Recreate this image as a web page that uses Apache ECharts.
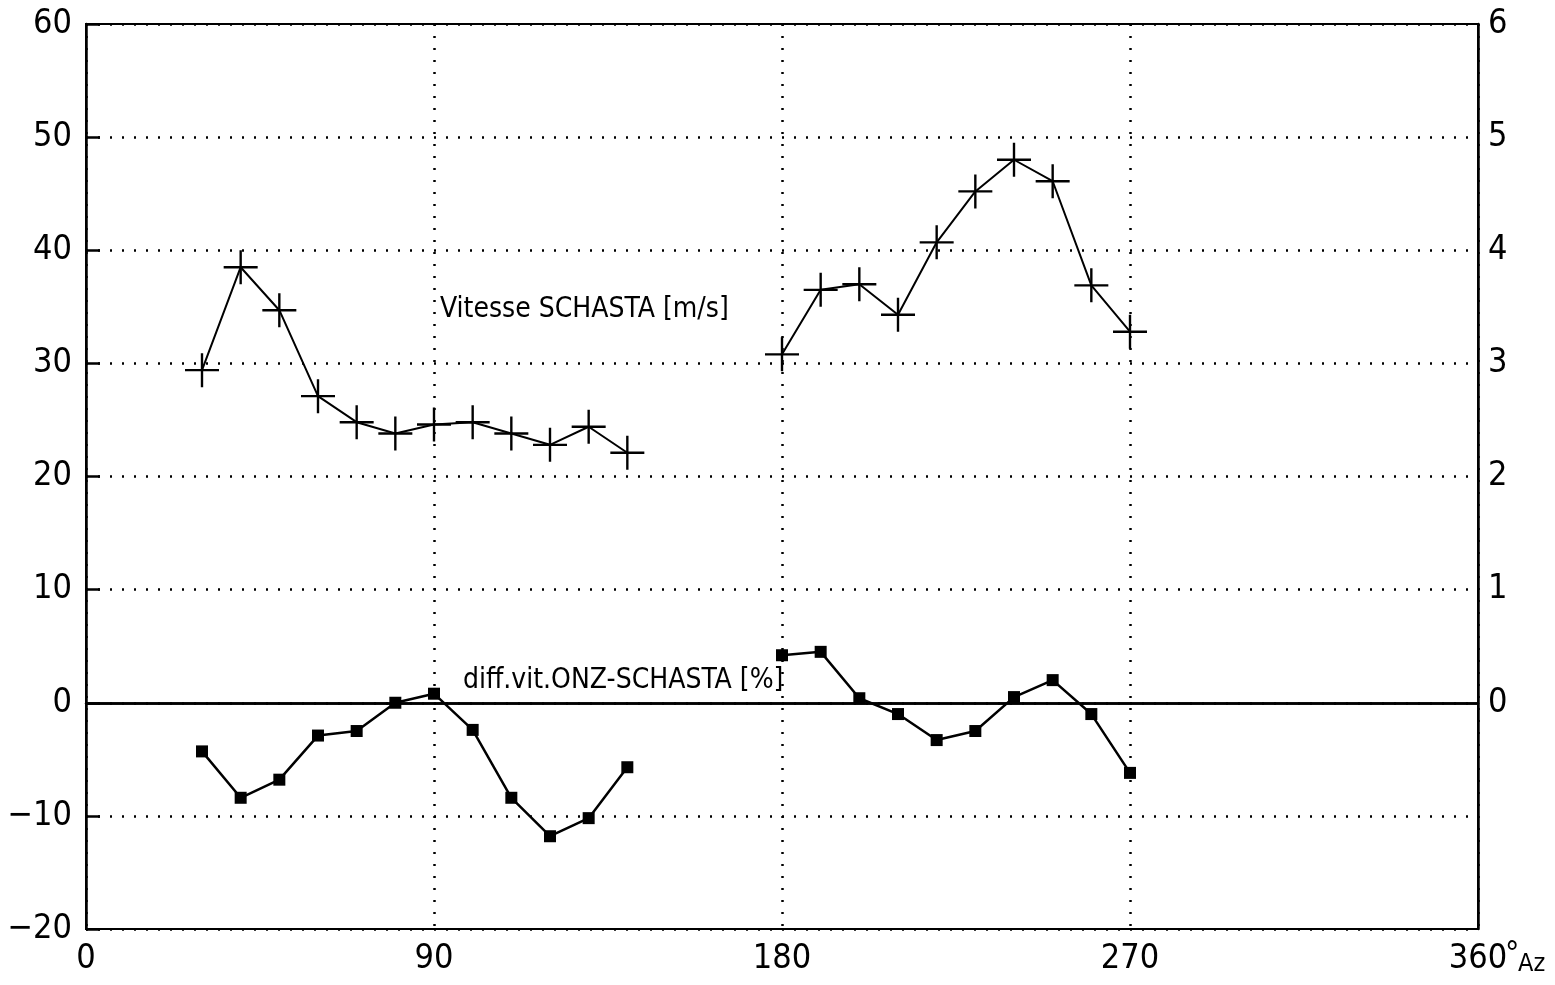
<!DOCTYPE html>
<html>
<head>
<meta charset="utf-8">
<script src="https://cdn.jsdelivr.net/npm/echarts@6/dist/echarts.min.js"></script>
<style>
html,body{margin:0;padding:0;background:#fff;}
#chart{width:1555px;height:985px;}
</style>
</head>
<body>
<div id="chart"></div>
<script>
// ---- data ----
var azimuths = [30,40,50,60,70,80,90,100,110,120,130,140,150,160,170,180,190,200,210,220,230,240,250,260,270];
var vitesse  = [29.4,38.5,34.7,27.1,24.8,23.8,24.6,24.8,23.8,22.8,24.4,22.1,null,null,null,30.8,36.5,37.0,34.3,40.7,45.2,48.0,46.1,36.9,32.8];
var diffVit  = [-4.3,-8.4,-6.8,-2.9,-2.5,0.0,0.8,-2.4,-8.4,-11.8,-10.2,-5.7,null,null,null,4.2,4.5,0.4,-1.0,-3.3,-2.5,0.5,2.0,-1.0,-6.2];
var xTicks = [0,90,180,270,360];
var leftTicks = [-20,-10,0,10,20,30,40,50,60];
var rightTicks = [0,1,2,3,4,5,6];
var labelVitesse = 'Vitesse SCHASTA [m/s]';
var labelDiff = 'diff.vit.ONZ-SCHASTA [%]';

var FONT = '"DejaVu Sans Condensed","DejaVu Sans",sans-serif';

function pairs(vals){
  return azimuths.map(function(a,i){ return [a, vals[i]]; });
}
function fmtNum(v){ return v < 0 ? '\u2212' + Math.abs(v) : String(v); }

var crossPath = 'path://M-1,-0.07L1,-0.07L1,0.07L-1,0.07Z M-0.07,-1L0.07,-1L0.07,1L-0.07,1Z';

var chart = echarts.init(document.getElementById('chart'));
var option = {
  animation: false,
  backgroundColor: '#fff',
  grid: {left: 86, right: 77, top: 24, bottom: 56, show: true, borderColor: '#000', borderWidth: 2, backgroundColor: 'transparent'},
  xAxis: {
    type: 'value', min: 0, max: 360, interval: 90,
    axisLine: {show: true, lineStyle: {color: '#000', width: 2.5}},
    axisTick: {show: false},
    axisLabel: {color: '#000', fontFamily: FONT, fontSize: 34, margin: 13,
      formatter: function(v){ return xTicks.indexOf(v) >= 0 ? String(v) : ''; }},
    splitLine: {show: true, lineStyle: {color: '#000', width: 2.5, type: [2, 10]}}
  },
  yAxis: [{
    type: 'value', min: -20, max: 60, interval: 10, position: 'left',
    axisLine: {show: true, lineStyle: {color: '#000', width: 2.5}},
    axisTick: {show: true, inside: true, length: 14, lineStyle: {color: '#000', width: 2.5}},
    axisLabel: {color: '#000', fontFamily: FONT, fontSize: 34, margin: 14,
      formatter: function(v){ return leftTicks.indexOf(v) >= 0 ? fmtNum(v) : ''; }},
    splitLine: {show: true, lineStyle: {color: '#000', width: 2.5, type: [2, 10]}}
  },{
    type: 'value', min: -2, max: 6, interval: 1, position: 'right',
    axisLine: {show: true, lineStyle: {color: '#000', width: 2.5}},
    axisTick: {show: false},
    axisLabel: {color: '#000', fontFamily: FONT, fontSize: 34, margin: 10,
      formatter: function(v){ return rightTicks.indexOf(v) >= 0 ? String(v) : ''; }},
    splitLine: {show: false}
  }],
  series: [{
    name: labelVitesse, type: 'line', yAxisIndex: 0,
    data: pairs(vitesse), connectNulls: false,
    symbol: crossPath, symbolSize: 34,
    lineStyle: {color: '#000', width: 2},
    itemStyle: {color: '#000'},
    z: 5
  },{
    name: labelDiff, type: 'line', yAxisIndex: 0,
    data: pairs(diffVit), connectNulls: false,
    symbol: 'rect', symbolSize: 12,
    lineStyle: {color: '#000', width: 2.5},
    itemStyle: {color: '#000'},
    markLine: {silent: true, symbol: 'none', label: {show: false},
      lineStyle: {color: '#000', width: 2.5, type: 'solid'},
      data: [{yAxis: 0}]},
    z: 5
  }],
  graphic: [
    {type: 'text', left: 440, top: 296, style: {text: labelVitesse, font: '28px ' + FONT, fill: '#000'}},
    {type: 'text', left: 463, top: 667, style: {text: labelDiff, font: '28px ' + FONT, fill: '#000'}},
    {type: 'text', left: 1505, top: 940, style: {text: '°', font: '32px ' + FONT, fill: '#000'}},
    {type: 'text', left: 1518, top: 952, style: {text: 'Az', font: '25px ' + FONT, fill: '#000'}}
  ]
};
chart.setOption(option);
</script>
</body>
</html>
